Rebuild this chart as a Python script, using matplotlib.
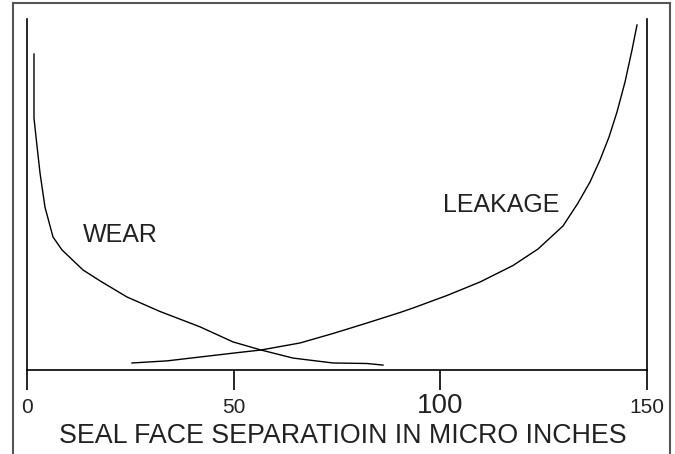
import matplotlib
matplotlib.use("Agg")
import matplotlib.pyplot as plt
from matplotlib.lines import Line2D

# curves (x in micro inches, y in arbitrary units 0-100)
wear_x = [1.69, 1.69, 2.18, 3.15, 4.35, 6.29, 8.47, 13.55, 17.66, 24.19, 32.18,
          41.85, 49.84, 56.61, 64.35, 74.03, 82.26, 86.13]
wear_y = [90.0, 71.8, 66.4, 56.1, 46.4, 37.9, 34.2, 28.5, 25.4, 20.8, 16.67,
          12.3, 8.0, 5.7, 3.4, 2.0, 1.85, 1.4]

leak_x = [25.40, 33.87, 41.85, 49.84, 56.61, 66.05, 74.03, 82.26, 90.24, 93.39,
          101.61, 109.60, 117.58, 123.63, 129.68, 133.31, 136.21, 138.63,
          140.81, 142.74, 144.68, 146.37, 147.58]
leak_y = [2.0, 2.6, 3.7, 4.8, 5.7, 7.7, 10.4, 13.39, 16.38, 17.66,
          21.23, 25.07, 29.77, 34.47, 41.03, 47.58, 53.56, 59.83,
          66.38, 73.5, 82.05, 91.17, 98.29]

tick_vals = [0, 50, 100, 150]
tick_labels = ["0", "50", "100", "150"]
tick_sizes = [15, 15, 20, 15]

xlabel = "SEAL FACE SEPARATIOIN IN MICRO INCHES"

fig = plt.figure(figsize=(6.75, 4.54), dpi=100)
ax = fig.add_axes([27 / 675, 1 - 370 / 454, 620 / 675, 351 / 454])

ax.plot(wear_x, wear_y, color="black", linewidth=1.0)
ax.plot(leak_x, leak_y, color="black", linewidth=1.0)

ax.set_xlim(0, 150)
ax.set_ylim(0, 100)
ax.spines["top"].set_visible(False)
for s in ["left", "right", "bottom"]:
    ax.spines[s].set_linewidth(1.2)
ax.set_yticks([])
ax.set_xticks(tick_vals)
ax.set_xticklabels([])
ax.tick_params(axis="x", length=14.4, width=1.2, direction="out")

trans = ax.get_xaxis_transform()
for v, lab, sz in zip(tick_vals, tick_labels, tick_sizes):
    ax.text(v, -43 / 351, lab, transform=trans, ha="center", va="baseline",
            fontsize=sz, family="Liberation Sans", color="#222222")

ax.text(13.55, 36.5, "WEAR", fontsize=18, family="Liberation Sans", color="#222222")
ax.text(100.6, 45.0, "LEAKAGE", fontsize=18, family="Liberation Sans", color="#222222")

fig.text(343 / 675, 1 - 443 / 454, xlabel, ha="center", va="baseline",
         fontsize=19.3, family="Liberation Sans", color="#222222")

# outer frame
fc = "#555555"
fig.add_artist(Line2D([13 / 675, 13 / 675], [0, 1 - 3 / 454], color=fc, lw=1.5))
fig.add_artist(Line2D([13 / 675, 670 / 675], [1 - 3 / 454, 1 - 3 / 454], color=fc, lw=1.5))
fig.add_artist(Line2D([670 / 675, 670 / 675], [0, 1 - 3 / 454], color=fc, lw=1.5))

fig.savefig("out.png", dpi=100)
